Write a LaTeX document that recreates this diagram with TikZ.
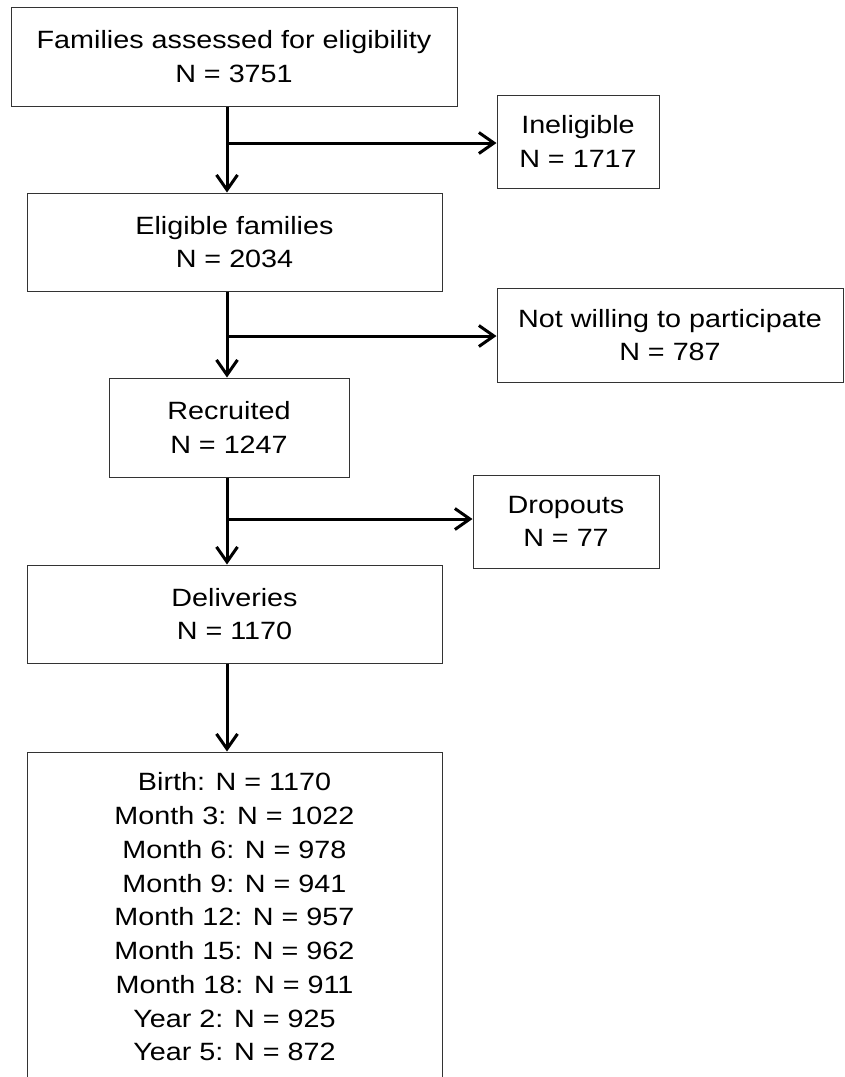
\documentclass[tikz,border=0pt]{standalone}
\usepackage{fontspec}
\setmainfont{Liberation Sans}[FakeStretch=1.15]
\usetikzlibrary{arrows.meta, positioning, calc}

\begin{document}
\begin{tikzpicture}[
      x=1pt, y=-1pt,
      box/.style={rectangle, draw=black!80, line width=1pt, align=center, inner sep=0pt, font=\fontsize{25}{33.75}\selectfont},
      arrow/.style={-{Straight Barb[length=15pt, width=21pt]}, line width=3pt}
    ]
    \clip (0,0) rectangle (844,1077);

    % main column
    \node[box, minimum width=446pt, minimum height=99pt] (assess) at (234,56.5) {Families assessed for eligibility\\N = 3751};
    \node[box, minimum width=415pt, minimum height=98pt] (elig) at (234.5,242) {Eligible families\\N = 2034};
    \node[box, minimum width=240pt, minimum height=99pt] (recruit) at (229,427.5) {Recruited\\N = 1247};
    \node[box, minimum width=415pt, minimum height=98pt] (deliv) at (234.5,614) {Deliveries\\N = 1170};
    \node[box, minimum width=415pt, minimum height=330pt] (follow) at (234.5,917) {Birth: N = 1170\\Month 3: N = 1022\\Month 6: N = 978\\Month 9: N = 941\\Month 12: N = 957\\Month 15: N = 962\\Month 18: N = 911\\Year 2: N = 925\\Year 5: N = 872};

    % side boxes
    \node[box, minimum width=162pt, minimum height=93pt] (inelig) at (578,141.5) {Ineligible\\N = 1717};
    \node[box, minimum width=346pt, minimum height=94pt] (notwill) at (670,335) {Not willing to participate\\N = 787};
    \node[box, minimum width=186pt, minimum height=93pt] (drop) at (566,521.5) {Dropouts\\N = 77};

    % branch points
    \coordinate (b1) at (227,143);
    \coordinate (b2) at (227,336);
    \coordinate (b3) at (227,519);

    \draw[arrow] (assess.south -| b1) -- (elig.north -| b1);
    \draw[arrow] (b1) -- (b1 -| inelig.west);
    \draw[arrow] (elig.south -| b2) -- (recruit.north -| b2);
    \draw[arrow] (b2) -- (b2 -| notwill.west);
    \draw[arrow] (recruit.south -| b3) -- (deliv.north -| b3);
    \draw[arrow] (b3) -- (b3 -| drop.west);
    \draw[arrow] (deliv.south -| b3) -- (follow.north -| b3);
  \end{tikzpicture}
\end{document}
